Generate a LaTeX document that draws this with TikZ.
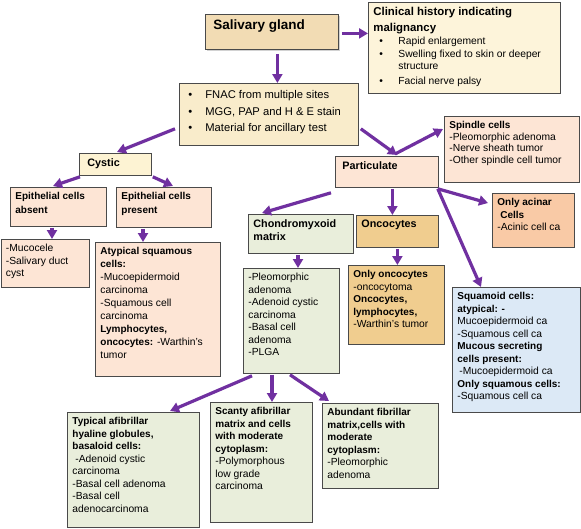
\documentclass[tikz,border=0pt]{standalone}
\usepackage{fontspec}
\setmainfont{Liberation Sans}
\usetikzlibrary{arrows.meta,calc,shadows}
\definecolor{arrc}{HTML}{7030A0}
\definecolor{bordc}{HTML}{4A4A4A}
\definecolor{tanc}{HTML}{F2DCB4}
\definecolor{creamc}{HTML}{FDF4DA}
\definecolor{fnacc}{HTML}{F9ECCB}
\definecolor{cystc}{HTML}{FDF3D3}
\definecolor{peachc}{HTML}{FDE5D5}
\definecolor{acinc}{HTML}{F9CAA6}
\definecolor{greenc}{HTML}{E9EEDB}
\definecolor{oncoc}{HTML}{F0CD8F}
\definecolor{bluec}{HTML}{DCE9F6}
\newcommand{\nf}{\fontsize{10.3}{12.5}\selectfont}
\newcommand{\hd}{\bfseries\fontsize{10}{12.5}\selectfont}
\newcommand{\bt}[3]{\begin{minipage}[t][\dimexpr#2pt-10pt\relax][t]{\dimexpr#1pt-10pt\relax}\raggedright\nf #3\end{minipage}}
\newcommand{\bul}{\hspace*{6pt}\makebox[19pt][l]{\textbullet}}
\newcommand{\bulf}{\hspace*{4pt}\makebox[17pt][l]{\textbullet}}
\tikzset{
  bx/.style={draw=bordc, line width=0.8pt, anchor=north west, inner xsep=5pt, inner ysep=5pt},
  arr/.style={draw=arrc, line width=3.2pt, -{Triangle[length=9pt,width=10pt]}},
}
\begin{document}
\begin{tikzpicture}[x=1pt,y=-1pt]
\useasboundingbox[fill=white] (0,0) rectangle (581,528);
% boxes
\node[bx, fill=tanc, drop shadow={shadow xshift=2pt, shadow yshift=-2pt, opacity=0.35}] (sg) at (205,14)
  {\bt{133}{35}{\hspace*{3pt}\bfseries\fontsize{13.5}{15}\selectfont Salivary gland}};
\node[bx, fill=creamc] (ch) at (368,2) {\bt{192}{91}{{\bfseries\fontsize{11.4}{12.5}\selectfont Clinical history indicating\\[3pt]malignancy}\\[1pt]
\bul Rapid enlargement\\
\bul Swelling fixed to skin or deeper\\
\hspace*{25pt}structure\\[2.5pt]
\bul Facial nerve palsy}};
\node[bx, fill=fnacc] (fn) at (179,83) {\bt{179}{62}{\fontsize{11.2}{16.5}\selectfont\vspace*{2pt}\bulf FNAC from multiple sites\\
\bulf MGG, PAP and H \& E stain\\
\bulf Material for ancillary test}};
\node[bx, fill=cystc] (cy) at (79,153) {\bt{72}{22}{\hspace*{3pt}\bfseries\fontsize{10.8}{12.5}\selectfont Cystic}};
\node[bx, fill=peachc] (pa) at (335,156) {\bt{103}{31}{\hspace*{2pt}\bfseries\fontsize{10.8}{12.5}\selectfont Particulate}};
\node[bx, fill=peachc] (sp) at (444,116) {\bt{135}{66}{\fontsize{10.3}{11.5}\selectfont{\hd Spindle cells}\\
-Pleomorphic adenoma\\
-Nerve sheath tumor\\
-Other spindle cell tumor}};
\node[bx, fill=peachc] (ea) at (10,187) {\bt{96}{39}{\hd Epithelial cells\\[1pt]absent}};
\node[bx, fill=peachc] (ep) at (116,187) {\bt{95}{40}{\hd Epithelial cells\\[1pt]present}};
\node[bx, fill=peachc] (mu) at (0.5,239) {\bt{88.5}{48}{-Mucocele\\-Salivary duct\\cyst}};
\node[bx, fill=peachc] (at) at (95,242) {\bt{125}{134}{\fontsize{10.3}{13}\selectfont{\hd Atypical squamous\\cells:}\\
-Mucoepidermoid\\carcinoma\\-Squamous cell\\carcinoma\\
{\hd Lymphocytes,\\oncocytes:} -Warthin's\\tumor}};
\node[bx, fill=greenc] (cm) at (248,214) {\bt{105}{39}{\bfseries\fontsize{10.8}{13}\selectfont Chondromyxoid\\matrix}};
\node[bx, fill=oncoc] (on) at (356,215) {\bt{82}{32}{\bfseries\fontsize{10.8}{12.5}\selectfont Oncocytes}};
\node[bx, fill=acinc] (ac) at (492,193) {\bt{82}{54}{{\hd Only acinar\\\hspace*{3pt}Cells}\\-Acinic cell ca}};
\node[bx, fill=oncoc] (oo) at (348,265) {\bt{96}{79}{{\hd Only oncocytes}\\-oncocytoma\\
{\hd Oncocytes,\\lymphocytes,}\\-Warthin's tumor}};
\node[bx, fill=greenc] (pl) at (243,268) {\bt{96}{105}{-Pleomorphic\\adenoma\\-Adenoid cystic\\carcinoma\\-Basal cell\\adenoma\\-PLGA}};
\node[bx, fill=bluec] (sq) at (452,287) {\bt{128}{125}{{\hd Squamoid cells:\\atypical: -}\\
Mucoepidermoid ca\\-Squamous cell ca\\
{\hd Mucous secreting\\cells present:}\\
\hspace*{2pt}-Mucoepidermoid ca\\
{\hd Only squamous cells:}\\-Squamous cell ca}};
\node[bx, fill=greenc] (ty) at (67,412) {\bt{132}{115}{{\hd Typical afibrillar\\hyaline globules,\\basaloid cells:}\\
\hspace*{3pt}-Adenoid cystic\\carcinoma\\-Basal cell adenoma\\-Basal cell\\adenocarcinoma}};
\node[bx, fill=greenc] (sc) at (210,402) {\bt{102}{120}{{\hd Scanty afibrillar\\matrix and cells\\with moderate\\cytoplasm:}\\
-Polymorphous\\low grade\\carcinoma}};
\node[bx, fill=greenc] (ab) at (322,403) {\bt{116}{85}{{\hd Abundant fibrillar\\matrix,cells with\\moderate\\cytoplasm:}\\
-Pleomorphic\\adenoma}};
% arrows
\draw[arr, shorten <=3pt] ($(sg.east)+(0,1.5)$) -- ($(sg.east -| ch.west)+(0,1.5)$);
\coordinate (p2) at ($(sg.south)+(5.5,4)$);
\draw[arr] (p2) -- (p2 |- fn.north);
\draw[arr] ($(fn.south west)+(-4,-17)$) -- ($(cy.north west)+(38,-1)$);
\draw[arr] ($(pa.north west)+(60,-2)$) -- ($(sp.north west)+(-1,13)$);
\draw[arr] ($(fn.south east)+(2,-17)$) -- ($(pa.north west)+(62,-1)$);
\draw[arr] ($(cy.south west)+(1,1)$) -- ($(ea.north west)+(43,-1)$);
\draw[arr] ($(cy.south east)+(1,1)$) -- ($(ep.north west)+(57,-1)$);
\coordinate (p8) at ($(ea.south west)+(42,1)$);
\draw[arr] (p8) -- (p8 |- mu.north);
\coordinate (p9) at ($(ep.south west)+(27,1)$);
\draw[arr] (p9) -- (p9 |- at.north);
\draw[arr] ($(pa.south west)+(-4,5)$) -- ($(cm.north west)+(14,-1)$);
\coordinate (p11) at ($(pa.south)+(5.5,1)$);
\draw[arr] (p11) -- (p11 |- on.north);
\draw[arr] ($(pa.south east)+(-1,1)$) -- ($(ac.north west)+(-4,10)$);
\draw[arr] ($(pa.south east)+(-1,1)$) -- ($(sq.north west)+(29,0)$);
\coordinate (p14) at ($(cm.south west)+(50,1)$);
\draw[arr] (p14) -- (p14 |- pl.north);
\coordinate (p15) at ($(on.south)+(0,1)$);
\draw[arr] (p15) -- (p15 |- oo.north);
\draw[arr] ($(pl.south west)+(9,2)$) -- ($(ty.north west)+(103,-1)$);
\coordinate (p17) at ($(pl.south west)+(29,1)$);
\draw[arr] (p17) -- (p17 |- sc.north);
\draw[arr] ($(pl.south west)+(47,1)$) -- ($(ab.north west)+(7,-2)$);
\end{tikzpicture}
\end{document}
